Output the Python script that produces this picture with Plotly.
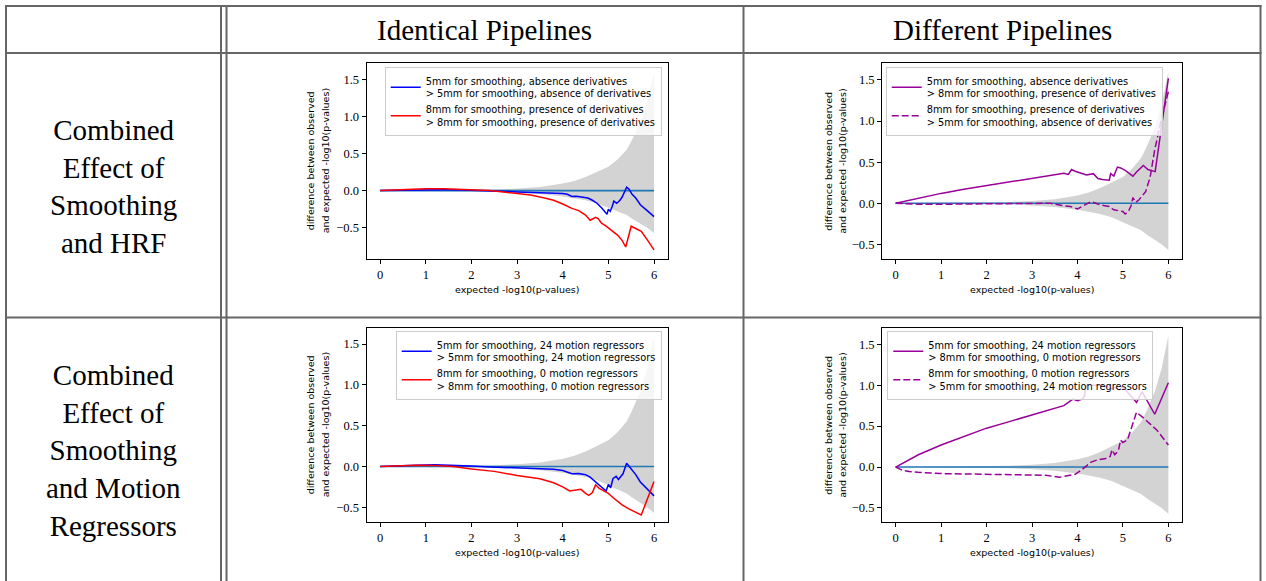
import plotly.graph_objects as go

W, H = 1266, 581

# ---- 95% null envelope for the observed-minus-expected -log10(p) curve ----
band_x = [0, 1.0, 2.0, 2.5, 3.0, 3.5, 4.0, 4.25, 4.5, 4.75, 5.0, 5.2, 5.4, 5.52, 5.7, 5.85, 6.0]
band_hi = [0, 0.003, 0.009, 0.016, 0.028, 0.05, 0.095, 0.13, 0.185, 0.25, 0.32, 0.42, 0.55, 0.685, 0.92, 1.2, 1.6]
band_lo = [0, -0.003, -0.009, -0.015, -0.026, -0.045, -0.078, -0.1, -0.13, -0.17, -0.23, -0.28, -0.33, -0.38, -0.445, -0.5, -0.57]

# ---- Smoothing x HRF, identical pipelines ----
hrf_same_5_x = [0, 0.3, 0.6, 1.0, 1.4, 1.8, 2.2, 2.5, 2.8, 3.0, 3.3, 3.6, 3.8, 4.0, 4.1, 4.2, 4.3, 4.45,
                4.55, 4.65, 4.75, 4.85, 4.93, 4.97, 5.0, 5.04, 5.08, 5.12, 5.18, 5.24, 5.3, 5.36, 5.4,
                5.45, 5.52, 5.6, 5.7, 5.85, 6.0]
hrf_same_5_y = [0, 0.004, 0.008, 0.01, 0.01, 0.008, 0.004, -0.005, -0.012, -0.018, -0.025, -0.03, -0.028,
                -0.04, -0.05, -0.08, -0.075, -0.085, -0.1, -0.13, -0.17, -0.23, -0.3, -0.32, -0.25, -0.28,
                -0.22, -0.14, -0.17, -0.14, -0.09, 0.0, 0.045, 0.02, -0.05, -0.1, -0.19, -0.27, -0.35]
hrf_same_8_x = [0, 0.3, 0.6, 1.0, 1.4, 1.8, 2.1, 2.4, 2.7, 3.0, 3.3, 3.6, 3.8, 4.0, 4.2, 4.35, 4.5, 4.6,
                4.65, 4.72, 4.78, 4.85, 4.95, 5.05, 5.2, 5.3, 5.38, 5.5, 5.6, 5.72, 5.85, 6.0]
hrf_same_8_y = [0, 0.01, 0.02, 0.025, 0.025, 0.018, 0.01, 0.0, -0.02, -0.04, -0.06, -0.1, -0.13, -0.18,
                -0.24, -0.27, -0.33, -0.4, -0.38, -0.36, -0.38, -0.44, -0.48, -0.53, -0.6, -0.67, -0.76,
                -0.48, -0.51, -0.55, -0.66, -0.80]

# ---- Smoothing x HRF, different pipelines ----
hrf_diff_a_x = [0, 0.5, 1.0, 1.5, 2.0, 2.5, 3.0, 3.3, 3.5, 3.7, 3.8, 3.87, 3.95, 4.05, 4.2, 4.35, 4.45,
                4.55, 4.7, 4.73, 4.8, 4.88, 4.95, 5.05, 5.15, 5.22, 5.3, 5.45, 5.55, 5.71, 6.0]
hrf_diff_a_y = [0, 0.06, 0.12, 0.17, 0.215, 0.255, 0.3, 0.33, 0.35, 0.365, 0.35, 0.41, 0.39, 0.37, 0.345,
                0.36, 0.3, 0.29, 0.28, 0.36, 0.33, 0.44, 0.43, 0.4, 0.36, 0.33, 0.38, 0.46, 0.41, 0.385, 1.52]
hrf_diff_b_x = [0, 0.5, 1.0, 1.5, 2.0, 2.5, 3.0, 3.4, 3.7, 3.85, 4.0, 4.15, 4.3, 4.4, 4.5, 4.6, 4.7, 4.8,
                4.9, 5.0, 5.05, 5.12, 5.18, 5.22, 5.28, 5.35, 5.5, 5.6, 5.7, 5.85, 6.0]
hrf_diff_b_y = [0, -0.012, -0.012, -0.01, -0.005, 0.0, 0.005, 0.0, -0.03, -0.04, -0.07, -0.03, 0.02, 0.0,
                -0.02, -0.03, -0.04, -0.08, -0.09, -0.1, -0.13, -0.1, -0.03, 0.07, 0.01, 0.04, 0.14, 0.32,
                0.65, 1.03, 1.36]

# ---- Smoothing x motion regressors, identical pipelines ----
mot_same_5_x = [0, 0.4, 0.8, 1.2, 1.6, 2.0, 2.4, 2.8, 3.0, 3.3, 3.6, 3.8, 4.0, 4.1, 4.2, 4.35, 4.5, 4.6,
                4.7, 4.8, 4.9, 4.95, 5.0, 5.05, 5.1, 5.17, 5.22, 5.27, 5.32, 5.4, 5.5, 5.6, 5.7, 5.85, 6.0]
mot_same_5_y = [0, 0.01, 0.015, 0.02, 0.015, 0.005, -0.005, -0.015, -0.02, -0.025, -0.03, -0.035, -0.05,
                -0.07, -0.09, -0.085, -0.1, -0.13, -0.18, -0.22, -0.27, -0.3, -0.22, -0.26, -0.15, -0.12,
                -0.16, -0.13, -0.09, 0.04, -0.03, -0.1, -0.19, -0.27, -0.36]
mot_same_8_x = [0, 0.4, 0.8, 1.2, 1.6, 2.0, 2.5, 3.0, 3.5, 3.8, 4.0, 4.15, 4.3, 4.4, 4.5, 4.57, 4.65, 4.72,
                4.8, 4.9, 5.0, 5.1, 5.2, 5.3, 5.45, 5.6, 5.72, 6.0]
mot_same_8_y = [0, 0.01, 0.015, 0.012, 0.0, -0.03, -0.06, -0.11, -0.15, -0.2, -0.25, -0.3, -0.29, -0.28,
                -0.33, -0.355, -0.32, -0.225, -0.27, -0.3, -0.33, -0.38, -0.43, -0.47, -0.52, -0.56, -0.595,
                -0.185]

# ---- Smoothing x motion regressors, different pipelines ----
mot_diff_a_x = [0, 0.25, 0.5, 1.0, 1.5, 2.0, 2.5, 3.0, 3.5, 3.7, 3.8, 3.9, 4.0, 4.1, 4.15, 4.2, 4.35, 4.5,
                4.65, 4.75, 4.85, 4.92, 5.0, 5.1, 5.2, 5.3, 5.42, 5.55, 5.7, 6.0]
mot_diff_a_y = [0, 0.08, 0.15, 0.27, 0.37, 0.475, 0.555, 0.635, 0.71, 0.75, 0.79, 0.83, 0.81, 0.83, 0.86,
                1.0, 1.0, 1.0, 0.98, 0.96, 0.97, 0.94, 0.98, 0.92, 0.86, 0.79, 0.92, 0.8, 0.645, 1.03]
mot_diff_b_x = [0, 0.15, 0.3, 0.5, 1.0, 1.5, 2.0, 2.5, 3.0, 3.3, 3.6, 3.8, 3.95, 4.1, 4.2, 4.3, 4.45, 4.6,
                4.72, 4.76, 4.82, 4.9, 4.95, 5.0, 5.1, 5.2, 5.3, 5.45, 5.6, 5.75, 6.0]
mot_diff_b_y = [0, -0.04, -0.055, -0.065, -0.08, -0.085, -0.093, -0.093, -0.095, -0.1, -0.125, -0.11, -0.09,
                -0.03, 0.02, 0.06, 0.09, 0.1, 0.13, 0.21, 0.15, 0.2, 0.33, 0.3, 0.33, 0.5, 0.67, 0.6, 0.53,
                0.45, 0.27]

col_headers = ["Identical Pipelines", "Different Pipelines"]
row_headers = ["Combined<br>Effect of<br>Smoothing<br>and HRF",
               "Combined<br>Effect of<br>Smoothing<br>and Motion<br>Regressors"]
x_title = "expected -log10(p-values)"
y_title_lines = ["difference between observed", "and expected -log10(p-values)"]

legend_names = [
    ["5mm for smoothing, absence derivatives<br>> 5mm for smoothing, absence of derivatives",
     "8mm for smoothing, presence of derivatives<br>> 8mm for smoothing, presence of derivatives"],
    ["5mm for smoothing, absence derivatives<br>> 8mm for smoothing, presence of derivatives",
     "8mm for smoothing, presence of derivatives<br>> 5mm for smoothing, absence of derivatives"],
    ["5mm for smoothing, 24 motion regressors<br>> 5mm for smoothing, 24 motion regressors",
     "8mm for smoothing, 0 motion regressors<br>> 8mm for smoothing, 0 motion regressors"],
    ["5mm for smoothing, 24 motion regressors<br>> 8mm for smoothing, 0 motion regressors",
     "8mm for smoothing, 0 motion regressors<br>> 5mm for smoothing, 24 motion regressors"],
]

series = [
    [(hrf_same_5_x, hrf_same_5_y), (hrf_same_8_x, hrf_same_8_y)],
    [(hrf_diff_a_x, hrf_diff_a_y), (hrf_diff_b_x, hrf_diff_b_y)],
    [(mot_same_5_x, mot_same_5_y), (mot_same_8_x, mot_same_8_y)],
    [(mot_diff_a_x, mot_diff_a_y), (mot_diff_b_x, mot_diff_b_y)],
]
styles = [
    [dict(color="#0000ff", dash="solid"), dict(color="#ff0000", dash="solid")],
    [dict(color="#990099", dash="solid"), dict(color="#990099", dash="7px,3px")],
    [dict(color="#0000ff", dash="solid"), dict(color="#ff0000", dash="solid")],
    [dict(color="#990099", dash="solid"), dict(color="#990099", dash="7px,3px")],
]
y_ranges = [[-0.926, 1.716], [-0.682, 1.703], [-0.684, 1.693], [-0.675, 1.695]]

# subplot frames in pixels: (left, right, top, bottom)
frames = [(366.5, 667.7, 63.3, 259.3), (882.0, 1182.0, 63.3, 259.3),
          (366.5, 667.7, 328.3, 522.3), (882.0, 1182.0, 328.3, 522.3)]
legend_corner = [(661.7, 67.0), (1162.7, 67.0), (661.7, 331.0), (1153.3, 331.0)]


def px(x):
    return x / W


def py(y):
    return 1 - y / H


fig = go.Figure()
layout = dict(width=W, height=H, margin=dict(l=0, r=0, t=0, b=0),
              paper_bgcolor="white", plot_bgcolor="white", showlegend=True)

tick_font = dict(family="Liberation Serif", size=12.5, color="black")
sans = "DejaVu Sans"

for i in range(4):
    xa = "x" if i == 0 else f"x{i + 1}"
    ya = "y" if i == 0 else f"y{i + 1}"
    lg = "legend" if i == 0 else f"legend{i + 1}"

    # envelope
    fig.add_trace(go.Scatter(x=band_x, y=band_lo, mode="lines", line=dict(width=0, color="#d3d3d3"),
                             xaxis=xa, yaxis=ya, showlegend=False, hoverinfo="skip", legend=lg))
    fig.add_trace(go.Scatter(x=band_x, y=band_hi, mode="lines", line=dict(width=0, color="#d3d3d3"),
                             fill="tonexty", fillcolor="#d3d3d3",
                             xaxis=xa, yaxis=ya, showlegend=False, hoverinfo="skip", legend=lg))
    # reference line at zero difference
    fig.add_trace(go.Scatter(x=[0, 6], y=[0, 0], mode="lines", line=dict(width=1.6, color="#1f77b4"),
                             xaxis=xa, yaxis=ya, showlegend=False, hoverinfo="skip", legend=lg))
    for (sx, sy), st, name in zip(series[i], styles[i], legend_names[i]):
        fig.add_trace(go.Scatter(x=sx, y=sy, mode="lines", name=name,
                                 line=dict(width=1.5, color=st["color"], dash=st["dash"]),
                                 xaxis=xa, yaxis=ya, legend=lg))

    l, r, t, b = frames[i]
    axis_common = dict(showline=True, mirror=True, linecolor="black", linewidth=1,
                       ticks="outside", ticklen=4, tickwidth=1, tickcolor="black",
                       showgrid=False, zeroline=False, tickfont=tick_font, fixedrange=True)
    xkey = "xaxis" if i == 0 else f"xaxis{i + 1}"
    ykey = "yaxis" if i == 0 else f"yaxis{i + 1}"
    layout[xkey] = dict(domain=[px(l), px(r)], range=[-0.3, 6.3], tickvals=[0, 1, 2, 3, 4, 5, 6],
                        anchor=ya, **axis_common)
    layout[ykey] = dict(domain=[py(b), py(t)], range=y_ranges[i], tickvals=[-0.5, 0, 0.5, 1.0, 1.5],
                        tickformat=".1f", anchor=xa, **axis_common)

    lx, ly = legend_corner[i]
    layout[lg] = dict(x=px(lx), y=py(ly), xanchor="right", yanchor="top", xref="paper", yref="paper",
                      bgcolor="rgba(255,255,255,0.8)", bordercolor="#cccccc", borderwidth=1,
                      font=dict(family=sans, size=9.8, color="black"), itemwidth=30,
                      tracegroupgap=2, valign="middle", traceorder="normal")

fig.update_layout(**layout)

annotations = []
# axis titles
for i, (l, r, t, b) in enumerate(frames):
    annotations.append(dict(x=px((l + r) / 2), y=py(b + 30), xref="paper", yref="paper",
                            text=x_title, showarrow=False, xanchor="center", yanchor="middle",
                            font=dict(family=sans, size=9.5, color="black")))
    offsets = [56.5, 41.5] if i % 2 == 0 else [53.5, 39.5]
    for line, off in zip(y_title_lines, offsets):
        annotations.append(dict(x=px(l - off), y=py((t + b) / 2), xref="paper", yref="paper",
                                text=line, showarrow=False, textangle=-90,
                                xanchor="center", yanchor="middle",
                                font=dict(family=sans, size=9.5, color="black")))

# table headings
for text, cx in zip(col_headers, [484.5, 1002.0]):
    annotations.append(dict(x=px(cx), y=py(30), xref="paper", yref="paper", text=text,
                            showarrow=False, xanchor="center", yanchor="middle",
                            font=dict(family="Liberation Serif", size=29, color="black")))
for text, cy in zip(row_headers, [186.5, 450.5]):
    annotations.append(dict(x=px(113.5), y=py(cy), xref="paper", yref="paper", text=text,
                            showarrow=False, xanchor="center", yanchor="middle", align="center",
                            font=dict(family="Liberation Serif", size=29, color="black")))

# table rules
rule = dict(color="#666666", width=2)
shapes = []
for yy in [6, 53, 317.5]:
    shapes.append(dict(type="line", xref="paper", yref="paper", x0=px(5), x1=px(1261.5),
                       y0=py(yy), y1=py(yy), line=rule))
for xx in [6, 221, 226.5, 743.5, 1260.5]:
    shapes.append(dict(type="line", xref="paper", yref="paper", x0=px(xx), x1=px(xx),
                       y0=py(5), y1=py(H + 5), line=rule))

fig.update_layout(annotations=annotations, shapes=shapes)
fig.write_html("out.html")
